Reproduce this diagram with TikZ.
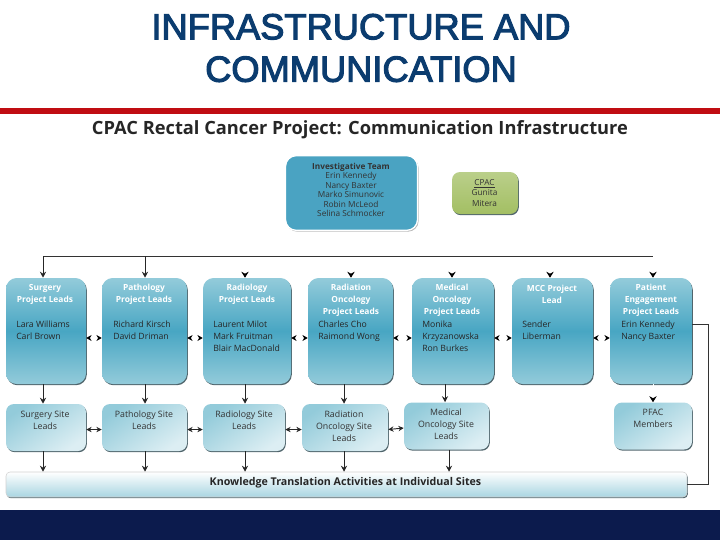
\documentclass[tikz,border=0pt]{standalone}
\usepackage{fontspec}
\setmainfont{Open Sans}
\newfontfamily\titlefont[FakeBold=3]{Liberation Sans}
\usetikzlibrary{arrows.meta,shadows}
\definecolor{titleblue}{HTML}{0B3C6F}
\definecolor{slidered}{HTML}{C00D12}
\definecolor{slidenavy}{HTML}{0C1B4D}
\definecolor{leadlight}{HTML}{93CBDA}
\definecolor{leadmid}{HTML}{48A6C3}
\definecolor{sitepale}{HTML}{DCEEF3}
\definecolor{teamblue}{HTML}{4AA3C2}
\definecolor{cpacgreen}{HTML}{A3BF63}
\tikzset{
        softshadow/.style={drop shadow={shadow xshift=.6pt,shadow yshift=-.9pt,fill=black!70!leadmid,opacity=.75}},
        leadbox/.style={rectangle,rounded corners=8pt,top color=leadlight,bottom color=leadlight,middle color=leadmid,softshadow},
        sitebox/.style={rectangle,rounded corners=6pt,left color=leadlight,right color=sitepale,shading angle=35,softshadow},
        barbox/.style={rectangle,rounded corners=3pt,top color=white,bottom color=leadlight!80,draw=black!18,softshadow},
        teambox/.style={rectangle,rounded corners=8pt,fill=teamblue,draw=white,line width=1pt,drop shadow={shadow xshift=.8pt,shadow yshift=-1pt,fill=black!35,opacity=.8}},
        cpacbox/.style={rectangle,rounded corners=6pt,top color=cpacgreen!75,bottom color=cpacgreen,softshadow},
        headtext/.style={align=center,text=white,font=\fontsize{6.3}{9}\selectfont\bfseries,inner sep=0},
        nametext/.style={align=left,anchor=north west,text=black!85,font=\fontsize{6.5}{9}\selectfont,inner sep=0},
        sitetext/.style={align=center,text=black!80,font=\fontsize{6.6}{9}\selectfont,inner sep=0},
        bus/.style={line width=.7pt,black!80},
        flow/.style={line width=.7pt,black!85,-{Stealth[length=4.5pt,width=4.5pt]}},
        twoway/.style={line width=.7pt,black!85,{Stealth[length=4pt,width=4pt]}-{Stealth[length=4pt,width=4pt]}},
        ghostflow/.style={line width=.7pt,white,-{Stealth[length=4.5pt,width=5.5pt,black]}},
        ghostway/.style={line width=.7pt,white,{Stealth[length=4pt,width=4.5pt,black]}-{Stealth[length=4pt,width=4.5pt,black]}}
}
\begin{document}
\begin{tikzpicture}[x=.75pt,y=-.75pt]
        \useasboundingbox (0,0) rectangle (720,540);
        % slide frame
        \fill[slidered] (0,108) rectangle (720,114);
        \fill[slidenavy] (0,510) rectangle (720,540);
        \node[align=center,text=titleblue,font=\titlefont\fontsize{27.2}{31.8}\selectfont,inner sep=0] (Title) at (361,48) {INFRASTRUCTURE AND\\COMMUNICATION};
        \node[font=\fontsize{13.7}{15}\selectfont\bfseries,text=black!85,inner sep=0] (Heading) at (360,130) {CPAC Rectal Cancer Project: Communication Infrastructure};

        \begin{scope}[every node/.append style={minimum height=79.5pt}]
                \node[leadbox,minimum width=60pt] (Surgery) at (46,331) {};
                \node[leadbox,minimum width=63.75pt] (Pathology) at (144.5,331) {};
                \node[leadbox,minimum width=66pt] (Radiology) at (247,331) {};
                \node[leadbox,minimum width=63.75pt] (Radiation) at (350.5,331) {};
                \node[leadbox,minimum width=61.5pt] (Medical) at (453,331) {};
                \node[leadbox,minimum width=60.75pt] (MCC) at (552.5,331) {};
                \node[leadbox,minimum width=61.5pt] (Patient) at (651,331) {};
        \end{scope}
        \begin{scope}[every node/.append style={minimum height=35.25pt}]
                \node[sitebox,minimum width=60pt] (SurgerySite) at (46,427.5) {};
                \node[sitebox,minimum width=63.75pt] (PathologySite) at (144.5,427.5) {};
                \node[sitebox,minimum width=61.5pt] (RadiologySite) at (244,427.5) {};
                \node[sitebox,minimum width=64.5pt] (RadiationSite) at (345,427.5) {};
                \node[sitebox,minimum width=63.75pt] (MedicalSite) at (446.5,426) {};
                \node[sitebox,minimum width=58.5pt] (PFAC) at (653,426) {};
        \end{scope}
        \node[teambox,minimum width=99pt,minimum height=56pt] (Team) at (351.5,193) {};
        \node[cpacbox,minimum width=49.5pt,minimum height=31.5pt] (CPAC) at (485,193) {};
        \node[barbox,minimum width=510.75pt,minimum height=18.75pt] (KT) at (346.5,484.5) {};

        % box texts
        \node[align=center,font=\fontsize{6.2}{7.1}\selectfont,text=black!80,inner sep=0] (TeamText) at (351,190) {\textbf{Investigative Team}\\Erin Kennedy\\Nancy Baxter\\Marko Simunovic\\Robin McLeod\\Selina Schmocker};
        \node[align=center,font=\fontsize{6.2}{7.9}\selectfont,text=black!80,inner sep=0] (CPACText) at (484.5,193) {\underline{CPAC}\\Gunita\\Mitera};
        \node[headtext] (SurgeryHead) at (45,294) {Surgery\\Project Leads};
        \node[headtext] (PathologyHead) at (144,294) {Pathology\\Project Leads};
        \node[headtext] (RadiologyHead) at (247,294) {Radiology\\Project Leads};
        \node[headtext] (RadiationHead) at (351,300) {Radiation\\Oncology\\Project Leads};
        \node[headtext] (MedicalHead) at (452,300) {Medical\\Oncology\\Project Leads};
        \node[headtext] (MCCHead) at (552,294) {MCC Project\\Lead};
        \node[headtext] (PatientHead) at (651,300) {Patient\\Engagement\\Project Leads};
        \node[nametext] (SurgeryNames) at (16,320.5) {Lara Williams\\Carl Brown};
        \node[nametext] (PathologyNames) at (113,320.5) {Richard Kirsch\\David Driman};
        \node[nametext] (RadiologyNames) at (213,320.5) {Laurent Milot\\Mark Fruitman\\Blair MacDonald};
        \node[nametext] (RadiationNames) at (318,320.5) {Charles Cho\\Raimond Wong};
        \node[nametext] (MedicalNames) at (422,320.5) {Monika\\Krzyzanowska\\Ron Burkes};
        \node[nametext] (MCCNames) at (522,320.5) {Sender\\Liberman};
        \node[nametext] (PatientNames) at (621,320.5) {Erin Kennedy\\Nancy Baxter};
        \node[sitetext] (SurgerySiteText) at (45,420) {Surgery Site\\Leads};
        \node[sitetext] (PathologySiteText) at (144,420) {Pathology Site\\Leads};
        \node[sitetext] (RadiologySiteText) at (244,420) {Radiology Site\\Leads};
        \node[sitetext] (RadiationSiteText) at (344,426) {Radiation\\Oncology Site\\Leads};
        \node[sitetext] (MedicalSiteText) at (446,424.5) {Medical\\Oncology Site\\Leads};
        \node[sitetext] (PFACText) at (653,418.5) {PFAC\\Members};
        \node[font=\fontsize{8}{9}\selectfont\bfseries,text=black!85,inner sep=0] (KTText) at (345.5,483) {Knowledge Translation Activities at Individual Sites};

        % bus above the lead boxes
        \coordinate (BusA) at (43,256);
        \coordinate (BusB) at (145,256);
        \coordinate (BusC) at (245,256);
        \coordinate (BusD) at (351,256);
        \coordinate (BusE) at (452,256);
        \coordinate (BusF) at (550,256);
        \coordinate (BusG) at (653,256);
        \coordinate (LoopTop) at (708,324);
        \coordinate (LoopBottom) at (708,484);
        \draw[bus] (BusA) -- (BusG);
        \draw[flow] (BusA) -- (BusA |- Surgery.north);
        \draw[flow] (BusB) -- (BusB |- Pathology.north);
        \foreach \busname/\boxname in {BusC/Radiology,BusD/Radiation,BusE/Medical,BusF/MCC,BusG/Patient}
                \draw[ghostflow] (\busname) ++(0,1) -- (\busname |- \boxname.north);

        % between the lead boxes
        \foreach \boxa/\boxb in {Surgery/Pathology,Pathology/Radiology,Radiology/Radiation,Radiation/Medical,Medical/MCC,MCC/Patient}
                \draw[ghostway] ([yshift=-5.25pt]\boxa.east) -- ([yshift=-5.25pt]\boxb.west);
        \foreach \boxa/\boxb in {SurgerySite/PathologySite,PathologySite/RadiologySite,RadiologySite/RadiationSite,RadiationSite/MedicalSite}
                \draw[twoway] ([yshift=-1.5pt]\boxa.east) -- ([yshift=-1.5pt]\boxb.west);

        % lead boxes to site boxes
        \foreach \xpos/\boxa/\boxb in {43/Surgery/SurgerySite,145/Pathology/PathologySite,245/Radiology/RadiologySite,344/Radiation/RadiationSite,445/Medical/MedicalSite}
                \draw[flow] (\xpos,0 |- \boxa.south) -- (\xpos,0 |- \boxb.north);
        \draw[ghostflow] (653,0 |- Patient.south) -- (653,0 |- PFAC.north);

        % site boxes to the bar
        \foreach \xpos/\boxa in {43/SurgerySite,145/PathologySite,245/RadiologySite,344/RadiationSite,449/MedicalSite}
                \draw[flow] (\xpos,0 |- \boxa.south) -- (\xpos,0 |- KT.north);

        % loop from the patient box to the bar
        \draw[bus] (Patient.east |- LoopTop) -- (LoopTop) -- (LoopBottom) -- (KT.east |- LoopBottom);
\end{tikzpicture}
\end{document}
